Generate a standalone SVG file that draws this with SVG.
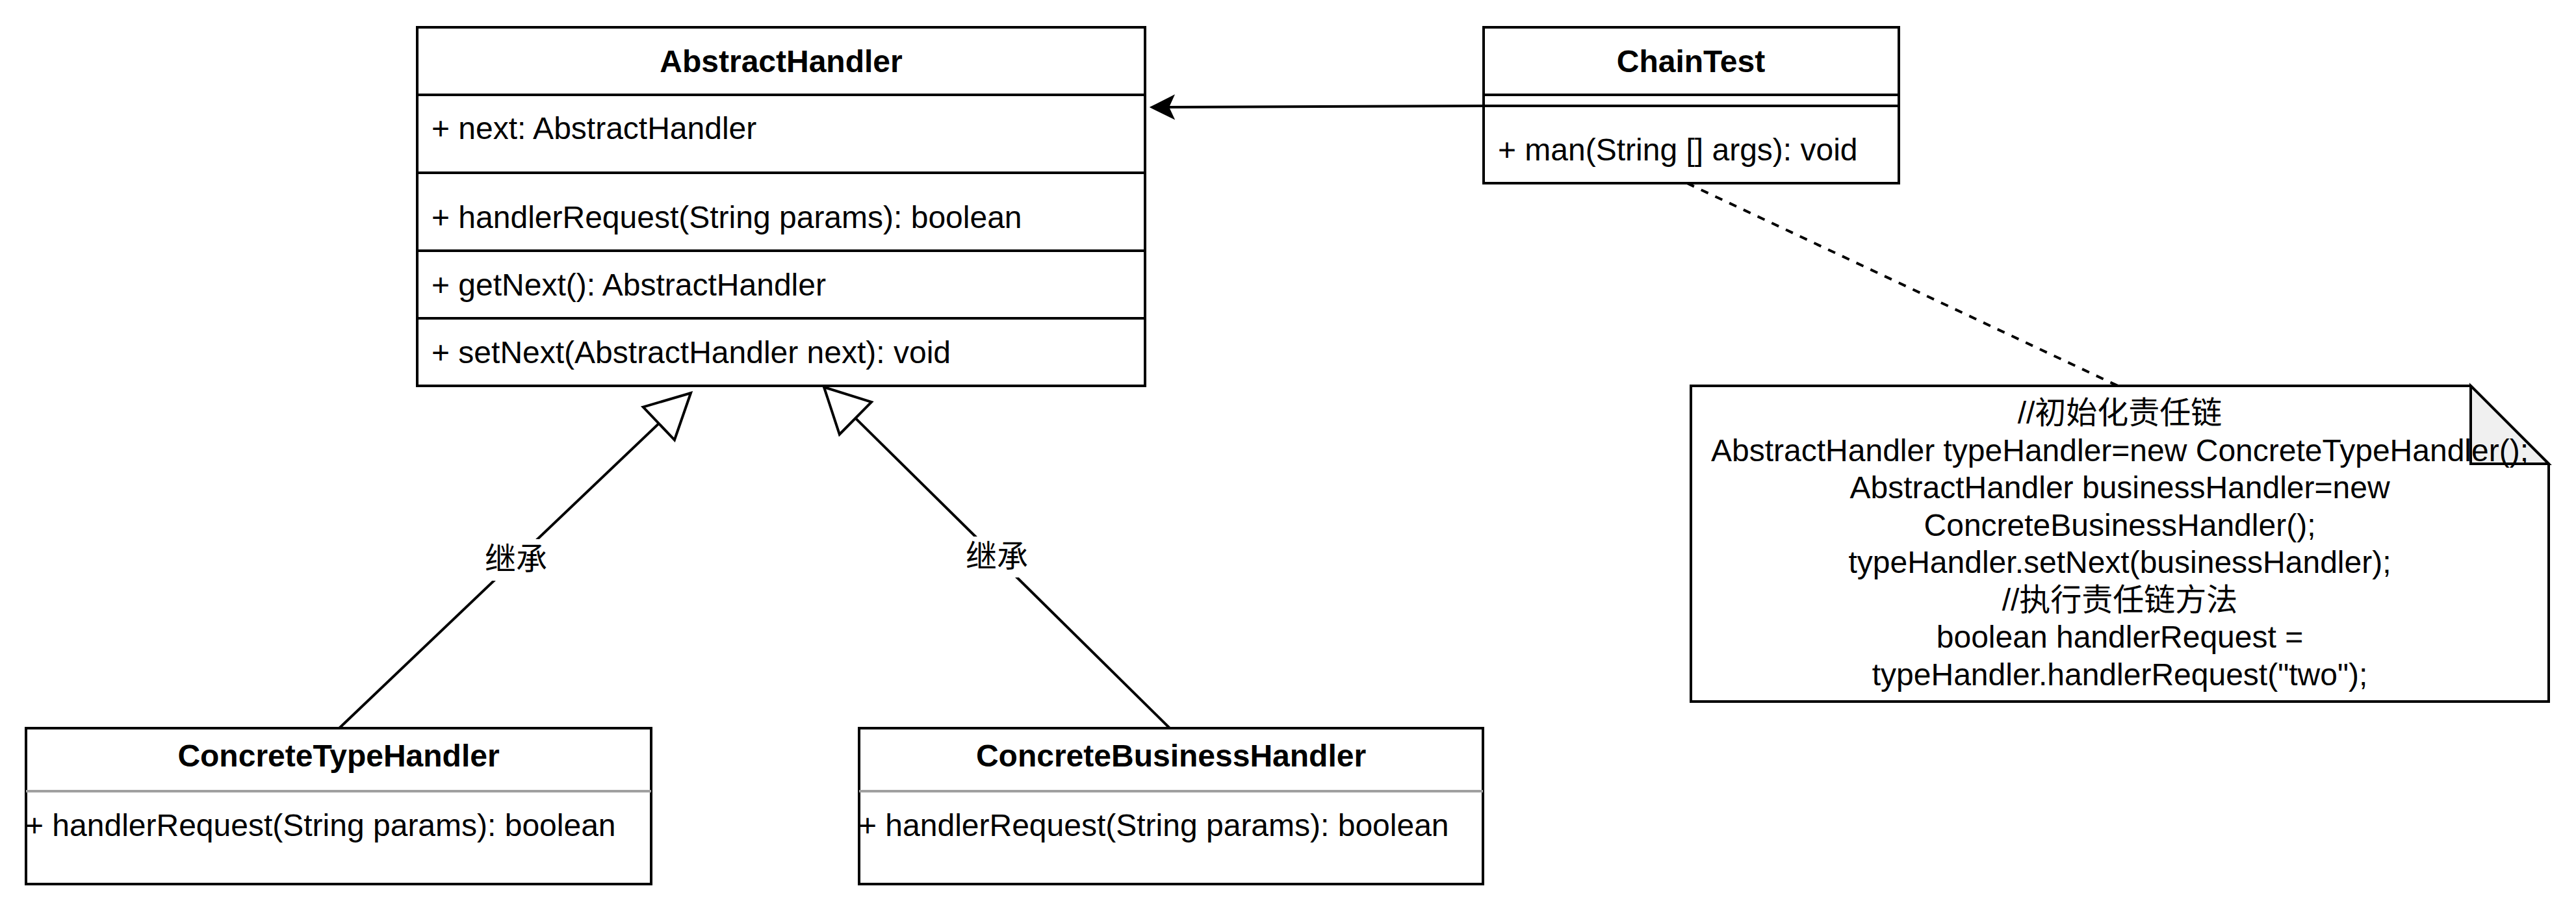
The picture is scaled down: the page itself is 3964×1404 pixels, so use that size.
<svg xmlns="http://www.w3.org/2000/svg" width="3964" height="1404" viewBox="0 0 3964 1404">
<style>
  .box { fill: #ffffff; stroke: #000000; stroke-width: 4; }
  .sep { stroke: #000000; stroke-width: 4; fill: none; }
  .gsep { stroke: #a0a0a0; stroke-width: 4; fill: none; }
  .t { font-family: "Liberation Sans", Arial, "Noto Sans CJK SC", sans-serif; font-size: 48px; fill: #000000; }
  .b { font-weight: bold; text-anchor: middle; }
  .c { text-anchor: middle; }
  .edge { stroke: #000000; stroke-width: 4; fill: none; }
  .dash { stroke-dasharray: 12 12; }
  .lbl { fill: #ffffff; stroke: none; }
</style>
<defs>
  <marker id="hollow" markerUnits="userSpaceOnUse" markerWidth="80" markerHeight="80" refX="70" refY="37" orient="auto" overflow="visible">
    <path d="M2,2 L70,37 L2,72 Z" fill="#ffffff" stroke="#000000" stroke-width="4" stroke-linejoin="miter"/>
  </marker>
  <marker id="filled" markerUnits="userSpaceOnUse" markerWidth="40" markerHeight="40" refX="8" refY="17.5" orient="auto" overflow="visible">
    <path d="M35,17.5 L0,0 L8,17.5 L0,35 Z" fill="#000000" stroke="#000000" stroke-width="2"/>
  </marker>
</defs>
<rect width="3964" height="1404" fill="#ffffff"/>

<g id="connectors">
  <line class="edge" x1="2283" y1="163" x2="1798" y2="165" marker-end="url(#filled)"/>
  <line class="edge dash" x1="2596" y1="282" x2="3259" y2="594"/>
  <line class="edge" x1="522" y1="1121" x2="1063" y2="605" marker-end="url(#hollow)"/>
  <line class="edge" x1="1800" y1="1121" x2="1268" y2="596" marker-end="url(#hollow)"/>
  <rect class="lbl" x="742" y="830" width="104" height="64"/>
  <text class="t c" x="794" y="877">继承</text>
  <rect class="lbl" x="1482" y="826" width="104" height="63"/>
  <text class="t c" x="1534" y="873">继承</text>
</g>

<g id="AbstractHandler">
  <rect class="box" x="642" y="42" width="1120" height="552"/>
  <line class="sep" x1="642" y1="146" x2="1762" y2="146"/>
  <line class="sep" x1="642" y1="266" x2="1762" y2="266"/>
  <line class="sep" x1="642" y1="386" x2="1762" y2="386"/>
  <line class="sep" x1="642" y1="490" x2="1762" y2="490"/>
  <text class="t b" x="1202" y="111">AbstractHandler</text>
  <text class="t" x="664" y="214">+ next: AbstractHandler</text>
  <text class="t" x="664" y="351">+ handlerRequest(String params): boolean</text>
  <text class="t" x="664" y="455">+ getNext(): AbstractHandler</text>
  <text class="t" x="664" y="559">+ setNext(AbstractHandler next): void</text>
</g>

<g id="ChainTest">
  <rect class="box" x="2283" y="42" width="639" height="240"/>
  <line class="sep" x1="2283" y1="146" x2="2922" y2="146"/>
  <line class="sep" x1="2283" y1="163" x2="2922" y2="163"/>
  <text class="t b" x="2602" y="111">ChainTest</text>
  <text class="t" x="2305" y="247">+ man(String [] args): void</text>
</g>

<g id="Note">
  <path class="box" d="M2602,594 H3802 L3922,714 V1080 H2602 Z"/>
  <path d="M3802,594 V714 H3922 Z" fill="#f0f0f0" stroke="#000000" stroke-width="4" stroke-linejoin="miter"/>
  <text class="t c" x="3262" y="652">//初始化责任链</text>
  <text class="t c" x="3262" y="710">AbstractHandler typeHandler=new ConcreteTypeHandler();</text>
  <text class="t c" x="3262" y="767">AbstractHandler businessHandler=new</text>
  <text class="t c" x="3262" y="825">ConcreteBusinessHandler();</text>
  <text class="t c" x="3262" y="882">typeHandler.setNext(businessHandler);</text>
  <text class="t c" x="3262" y="940">//执行责任链方法</text>
  <text class="t c" x="3262" y="997">boolean handlerRequest =</text>
  <text class="t c" x="3262" y="1055">typeHandler.handlerRequest("two");</text>
</g>

<g id="ConcreteTypeHandler">
  <rect class="box" x="40" y="1121" width="962" height="240"/>
  <line class="gsep" x1="40" y1="1218" x2="1002" y2="1218"/>
  <text class="t b" x="521" y="1180">ConcreteTypeHandler</text>
  <text class="t" x="39" y="1287">+ handlerRequest(String params): boolean</text>
</g>

<g id="ConcreteBusinessHandler">
  <rect class="box" x="1322" y="1121" width="960" height="240"/>
  <line class="gsep" x1="1322" y1="1218" x2="2282" y2="1218"/>
  <text class="t b" x="1802" y="1180">ConcreteBusinessHandler</text>
  <text class="t" x="1321" y="1287">+ handlerRequest(String params): boolean</text>
</g>
</svg>
